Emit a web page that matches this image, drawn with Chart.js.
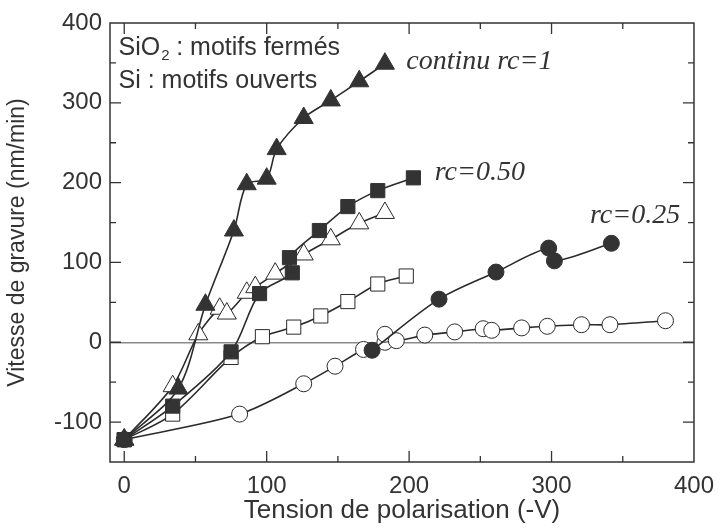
<!DOCTYPE html>
<html>
<head>
<meta charset="utf-8">
<script src="https://cdn.jsdelivr.net/npm/chart.js@4"></script>
<style>
  body { margin: 0; background: #fff; }
</style>
</head>
<body>
<canvas id="gravure" width="724" height="530"></canvas>
<script>
// continu rc=1 : filled triangles
var rc1X = [0, 38, 57, 77, 86, 100, 107, 126, 145, 165, 183];
var rc1Y = [-122, -58, 47, 140, 198, 205, 242, 281, 303, 327, 349];
// rc=0.50 : filled squares
var rc50X = [0, 34, 75, 95, 118, 116, 137, 157, 178, 203];
var rc50Y = [-122, -80, -12, 61, 87, 106, 140, 170, 190, 206];
// rc=0.50 open triangles
var tri2X = [0, 34, 52, 67, 72, 86, 92, 106, 126, 145, 165, 183];
var tri2Y = [-122, -55, 10, 42, 36, 62, 69, 86, 110, 129, 149, 162];
// open squares
var sq2X = [0, 34, 75, 97, 119, 138, 157, 178, 198];
var sq2Y = [-122, -90, -19, 7, 19, 33, 51, 73, 83];
// rc=0.25 : filled circles
var rc25X = [174, 221, 261, 298, 302, 342];
var rc25Y = [-10, 54, 88, 118, 102, 124];
// open circles
var circX = [0, 81, 126, 148, 168, 183, 183, 191, 211, 232, 252, 258, 279, 297, 321, 341, 380];
var circY = [-122, -90, -52, -30, -9, 0, 10, 2, 9, 13, 17, 15, 18, 20, 22, 22, 27];

var xTicks = [0, 100, 200, 300, 400];
var yTicks = [-100, 0, 100, 200, 300, 400];

function pts(xs, ys) {
  return xs.map(function (x, i) { return { x: x, y: ys[i] }; });
}

var dark = "#2a2a2a";
var fillDark = "#333333";

function serie(label, xs, ys, style, filled, r) {
  return {
    label: label,
    data: pts(xs, ys),
    borderColor: dark,
    borderWidth: 1.6,
    pointStyle: style,
    pointRadius: r,
    pointBackgroundColor: filled ? fillDark : "#ffffff",
    pointBorderColor: filled ? fillDark : "#2a2a2a",
    pointBorderWidth: 1,
    tension: 0.3,
    fill: false
  };
}

var framePlugin = {
  id: "frame",
  afterDraw: function (chart) {
    var ctx = chart.ctx, a = chart.chartArea;
    var sx = chart.scales.x, sy = chart.scales.y;
    ctx.save();
    ctx.strokeStyle = "#333";
    ctx.lineWidth = 1.5;
    ctx.strokeRect(a.left, a.top, a.right - a.left, a.bottom - a.top);
    ctx.lineWidth = 1.3;
    ctx.beginPath();
    for (var v = 0; v < 400; v += 50) {
      var p = sx.getPixelForValue(v), len = v % 100 === 0 ? 11 : 6;
      ctx.moveTo(p, a.bottom); ctx.lineTo(p, a.bottom - len);
      ctx.moveTo(p, a.top); ctx.lineTo(p, a.top + len);
    }
    for (var w = -100; w < 400; w += 50) {
      var q = sy.getPixelForValue(w), l2 = w % 100 === 0 ? 11 : 6;
      ctx.moveTo(a.left, q); ctx.lineTo(a.left + l2, q);
      ctx.moveTo(a.right, q); ctx.lineTo(a.right - l2, q);
    }
    ctx.stroke();

    // notes
    ctx.fillStyle = "#333";
    ctx.textBaseline = "alphabetic";
    ctx.font = "25px 'Liberation Sans', Arial, sans-serif";
    var x0 = sx.getPixelForValue(-4), y0 = sy.getPixelForValue(360);
    ctx.fillText("SiO", x0, y0);
    var wSiO = ctx.measureText("SiO").width;
    ctx.font = "15px 'Liberation Sans', Arial, sans-serif";
    ctx.fillText("2", x0 + wSiO + 1, y0 + 5);
    ctx.font = "25px 'Liberation Sans', Arial, sans-serif";
    ctx.fillText(" : motifs fermés", x0 + wSiO + 9, y0);
    ctx.fillText("Si : motifs ouverts", x0, sy.getPixelForValue(318));

    ctx.font = "italic 28px 'Liberation Serif', 'Times New Roman', serif";
    ctx.fillText("continu rc=1", sx.getPixelForValue(198), sy.getPixelForValue(342));
    ctx.fillText("rc=0.50", sx.getPixelForValue(218), sy.getPixelForValue(203));
    ctx.fillText("rc=0.25", sx.getPixelForValue(327), sy.getPixelForValue(149));
    ctx.restore();
  }
};

var chart = new Chart(document.getElementById("gravure").getContext("2d"), {
  type: "line",
  data: {
    datasets: [
      serie("rc=1", rc1X, rc1Y, "triangle", true, 11),
      serie("rc=0.50", rc50X, rc50Y, "rect", true, 10),
      serie("triangles ouverts", tri2X, tri2Y, "triangle", false, 11),
      serie("carrés ouverts", sq2X, sq2Y, "rect", false, 10),
      serie("rc=0.25", rc25X, rc25Y, "circle", true, 8),
      serie("cercles ouverts", circX, circY, "circle", false, 8)
    ]
  },
  options: {
    responsive: false,
    animation: false,
    layout: { padding: { top: 23, right: 22, left: 0, bottom: 0 } },
    plugins: {
      legend: { display: false },
      tooltip: { enabled: false }
    },
    scales: {
      x: {
        type: "linear",
        min: -10,
        max: 400,
        afterBuildTicks: function (s) { s.ticks = xTicks.map(function (v) { return { value: v }; }); },
        afterFit: function (s) { s.height = 68; },
        grid: { display: false, drawTicks: false },
        border: { display: false },
        ticks: { color: "#333", padding: 10, font: { size: 24, family: "'Liberation Sans', Arial" } },
        title: { display: true, text: "Tension de polarisation (-V)", color: "#333", padding: { top: 0 },
                 font: { size: 26, family: "'Liberation Sans', Arial" } }
      },
      y: {
        min: -150,
        max: 400,
        afterBuildTicks: function (s) { s.ticks = yTicks.map(function (v) { return { value: v }; }); },
        afterFit: function (s) { s.width = 110; },
        grid: {
          drawTicks: false,
          color: function (c) { return c.tick && c.tick.value === 0 ? "#8a8a8a" : "rgba(0,0,0,0)"; },
          lineWidth: 1.5
        },
        border: { display: false },
        ticks: { color: "#333", padding: 8, font: { size: 24, family: "'Liberation Sans', Arial" } },
        title: { display: true, text: "Vitesse de gravure (nm/min)", color: "#333", padding: { bottom: 2 },
                 font: { size: 23, family: "'Liberation Sans', Arial" } }
      }
    }
  },
  plugins: [framePlugin]
});
</script>
</body>
</html>
